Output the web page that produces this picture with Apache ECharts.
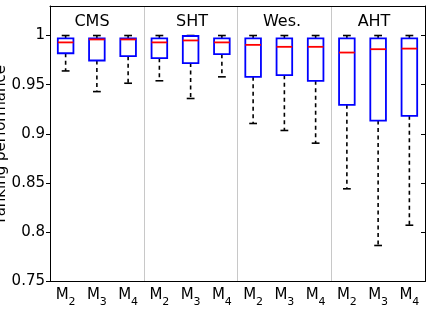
<!DOCTYPE html>
<html><head><meta charset="utf-8">
<script src="https://cdn.jsdelivr.net/npm/echarts@6/dist/echarts.min.js"></script>
<style>html,body{margin:0;padding:0;background:#fff}#c{width:430px;height:316px}</style>
</head><body><div id="c"></div>
<script>
const categories = ['2','3','4','2','3','4','2','3','4','2','3','4'];
const groups = ['CMS','SHT','Wes.','AHT'];
const groupTitleX = [92, 192, 282, 374];
const maxV   = [1.000,1.000,1.000, 1.000,1.000,1.000, 1.000,1.000,1.000, 1.000,1.000,1.000];
const q3V    = [0.997,0.997,0.997, 0.997,0.9995,0.997, 0.997,0.997,0.997, 0.997,0.997,0.997];
const medV   = [0.993,0.996,0.996, 0.993,0.995,0.993, 0.9905,0.9885,0.9885, 0.9827,0.9861,0.9867];
const q1V    = [0.982,0.9746,0.979, 0.977,0.972,0.981, 0.958,0.9597,0.954, 0.9296,0.9136,0.9184];
const minV   = [0.964,0.943,0.9515, 0.954,0.936,0.958, 0.9106,0.9035,0.8906, 0.8442,0.7866,0.8072];
const yTicks = {min:0.75, max:1.03, interval:0.05};

const data = categories.map((c,i)=>[i, minV[i], q1V[i], medV[i], q3V[i], maxV[i]]);
const FONT = 'DejaVu Sans';

const chart = echarts.init(document.getElementById('c'), null, {renderer:'canvas'});
chart.setOption({
  animation:false,
  grid:{left:50, right:5, top:6, bottom:34.5, containLabel:false, outerBoundsMode:'none'},
  xAxis:[{
    type:'category', data:categories, position:'bottom', boundaryGap:true,
    axisLine:{lineStyle:{color:'#000', width:1}}, axisTick:{show:false},
    axisLabel:{margin:6, color:'#000', interval:0,
      formatter:v=>'{m|M}{s|'+v+'}',
      rich:{m:{fontFamily:FONT,fontSize:15,color:'#000',verticalAlign:'top'},
            s:{fontFamily:FONT,fontSize:11,color:'#000',padding:[9,0,0,0],verticalAlign:'top'}}},
    splitLine:{show:false}
  },{
    type:'value', position:'top', min:0, max:12, interval:3,
    axisLine:{show:true, onZero:false, lineStyle:{color:'#000', width:1}},
    axisTick:{show:false}, axisLabel:{show:false},
    splitLine:{show:true, lineStyle:{color:'#c8c8c8', width:1}}
  }],
  yAxis:[{
    type:'value', position:'left', min:yTicks.min, max:yTicks.max, interval:yTicks.interval,
    name:'ranking performance', nameLocation:'middle', nameGap:41, nameRotate:90, nameMoveOverlap:false,
    nameTextStyle:{fontFamily:FONT, fontSize:15, color:'#000'},
    axisLine:{show:true, lineStyle:{color:'#000', width:1}},
    axisTick:{show:true, inside:false, length:4, lineStyle:{color:'#000'}},
    axisLabel:{margin:5, color:'#000', fontFamily:FONT, fontSize:15, showMaxLabel:false},
    splitLine:{show:false}
  },{
    type:'value', position:'right', min:yTicks.min, max:yTicks.max, interval:yTicks.interval,
    axisLine:{show:true, lineStyle:{color:'#000', width:1}},
    axisTick:{show:true, inside:true, length:4, lineStyle:{color:'#000'}},
    axisLabel:{show:false}, splitLine:{show:false}
  }],
  graphic: groups.map((g,i)=>({type:'text', z:100, x:groupTitleX[i], y:22,
    style:{text:g, fontFamily:FONT, fontSize:16, fill:'#000', textAlign:'center', textVerticalAlign:'middle'}})),
  series:[{
    type:'custom', xAxisIndex:0, yAxisIndex:0, data:data,
    encode:{x:0, y:[1,2,3,4,5]},
    renderItem:(params, api)=>{
      const idx = api.value(0);
      const w = api.size([1,0])[0]*0.5;
      const pMin = api.coord([idx, api.value(1)]);
      const pQ1 = api.coord([idx, api.value(2)]);
      const pMed = api.coord([idx, api.value(3)]);
      const pQ3 = api.coord([idx, api.value(4)]);
      const pMax = api.coord([idx, api.value(5)]);
      const cx = pMed[0];
      const dash = {stroke:'#000', lineWidth:1.6, lineDash:[4,3.5]};
      return {type:'group', children:[
        {type:'line', shape:{x1:cx,y1:pQ1[1],x2:cx,y2:pMin[1]}, style:dash},
        {type:'line', shape:{x1:cx,y1:pQ3[1],x2:cx,y2:pMax[1]}, style:dash},
        {type:'line', shape:{x1:cx-w/4,y1:pMin[1],x2:cx+w/4,y2:pMin[1]}, style:{stroke:'#000', lineWidth:1.6}},
        {type:'line', shape:{x1:cx-w/4,y1:pMax[1],x2:cx+w/4,y2:pMax[1]}, style:{stroke:'#000', lineWidth:1.6}},
        {type:'rect', shape:{x:cx-w/2, y:pQ3[1], width:w, height:pQ1[1]-pQ3[1]}, style:{stroke:'#0000ff', fill:'#fff', lineWidth:1.8}},
        {type:'line', shape:{x1:cx-w/2,y1:pMed[1],x2:cx+w/2,y2:pMed[1]}, style:{stroke:'#ff0000', lineWidth:1.8}}
      ]};
    }
  }]
});
</script></body></html>
